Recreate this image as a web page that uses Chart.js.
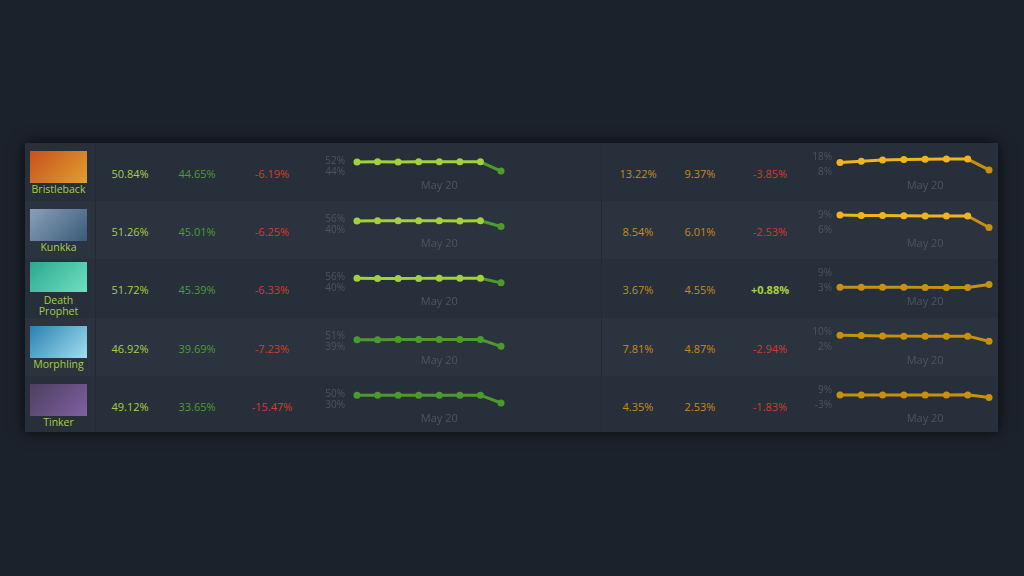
<!DOCTYPE html>
<html><head><meta charset="utf-8">
<script src="https://cdn.jsdelivr.net/npm/chart.js@4"></script>
<style>
body{margin:0;width:1024px;height:576px;background:#1c222c;overflow:hidden;font-family:"Open Sans",sans-serif;}
#tbl{position:absolute;left:25px;top:143px;width:973px;height:289px;background:#29313c;box-shadow:0 0 14px rgba(0,0,0,0.7);}
.row{position:absolute;left:0;width:973px;}
.cell{position:absolute;font-size:11px;transform:translate(-50%,-50%);white-space:nowrap;}
.img{position:absolute;left:5px;width:57px;height:32px;}
.name{position:absolute;font-size:10.5px;color:#a6cf45;text-align:center;width:67px;left:0;line-height:11px;}
canvas{position:absolute;}
.sep{position:absolute;top:0;width:1px;height:289px;background:#232a34;}
</style></head><body>
<div id="tbl"></div>
<script>
const heroes=['Bristleback','Kunkka','Death\nProphet','Morphling','Tinker'];
const winBefore=['50.84%','51.26%','51.72%','46.92%','49.12%'];
const winAfter=['44.65%','45.01%','45.39%','39.69%','33.65%'];
const winDiff=['-6.19%','-6.25%','-6.33%','-7.23%','-15.47%'];
const pickBefore=['13.22%','8.54%','3.67%','7.81%','4.35%'];
const pickAfter=['9.37%','6.01%','4.55%','4.87%','2.53%'];
const pickDiff=['-3.85%','-2.53%','+0.88%','-2.94%','-1.83%'];
const dates=['','','','','May 20','','',''];
const winSeries=[
 [51.2,51.4,51.3,51.4,51.4,51.4,51.4,44.65],
 [53.2,53.5,53.3,53.3,53.3,53.2,53.4,45.01],
 [54.2,53.9,53.9,54.0,54.2,54.1,54.1,47.5],
 [47.0,47.0,47.3,47.2,47.1,47.1,47.1,39.69],
 [47.8,47.8,47.8,47.8,47.8,47.8,47.9,33.65]];
const winTicks=[[44,52],[40,56],[40,56],[39,51],[30,50]];
const pickSeries=[
 [14.3,15.2,16.0,16.4,16.5,16.7,16.6,9.37],
 [9.0,8.9,8.9,8.85,8.8,8.8,8.8,6.5],
 [3.3,3.3,3.3,3.3,3.25,3.25,3.25,4.4],
 [8.3,8.1,7.9,7.8,7.8,7.8,7.8,5.1],
 [5.0,5.0,5.0,5.0,5.0,5.0,5.1,3.0]];
const pickTicks=[[8,18],[6,9],[3,9],[2,10],[-3,9]];
const winColors=[['#a3d03e','#4f9a2c'],['#a3d03e','#4f9a2c'],['#a3d03e','#4f9a2c'],['#4c9a2e','#4c9a2e'],['#4c9a2e','#4c9a2e']];
const pickColors=[['#f2b41e','#c8900f'],['#f2b41e','#c8900f'],['#c8900f','#c8900f'],['#c8900f','#c8900f'],['#c8900f','#c8900f']];
const portraitColors=[['#c8501c','#e0a030'],['#8aa0b8','#3a5a7a'],['#2aa890','#70e0c0'],['#2a80b0','#a0e0f0'],['#4a4060','#8060a0']];

const tbl=document.getElementById('tbl');
const rowTops=[0,58,116,175,233];
const rowH=[58,58,59,58,56];
rowTops.forEach((top,i)=>{
  const r=document.createElement('div');r.className='row';
  r.style.top=top+'px';r.style.height=rowH[i]+'px';
  r.style.background=i%2?'#2b333e':'#27303a';
  tbl.appendChild(r);
});
['70px','576px'].forEach(l=>{const s=document.createElement('div');s.className='sep';s.style.left=l;tbl.appendChild(s);});
rowTops.forEach((top,i)=>{
  const r=document.createElement('div');r.className='row';
  r.style.top=top+'px';r.style.height=rowH[i]+'px';
  tbl.appendChild(r);
  const img=document.createElement('div');img.className='img';
  img.style.top=(i==2?3:8)+'px';img.style.height=(i==2?30:32)+'px';
  img.style.background=`linear-gradient(135deg,${portraitColors[i][0]},${portraitColors[i][1]})`;
  r.appendChild(img);
  const nm=document.createElement('div');nm.className='name';
  nm.innerHTML=heroes[i].replace('\n','<br>');
  nm.style.top=(i==2?36:41)+'px';r.appendChild(nm);
  const cells=[[105,winBefore[i],'#a6cf45'],[172,winAfter[i],'#4e9a38'],[247,winDiff[i],'#d23b2d'],
    [613,pickBefore[i],'#c9891e'],[675,pickAfter[i],'#c9891e'],[745,pickDiff[i],pickDiff[i][0]=='+'?'#a6d040':'#d23b2d']];
  cells.forEach(([x,t,c])=>{
    const d=document.createElement('div');d.className='cell';d.textContent=t;d.style.color=c;
    d.style.left=x+'px';d.style.top='30px';
    if(t[0]=='+')d.style.fontWeight='bold';
    r.appendChild(d);
  });
  mk(r,293,190,39,12,winSeries[i],winTicks[i],winColors[i]);
  mk(r,775,196,40,8,pickSeries[i],pickTicks[i],pickColors[i]);
});
function mk(parent,left,w,yw,tp,data,ticks,cols){
  const c=document.createElement('canvas');
  c.style.left=left+'px';c.style.top='0px';c.width=w;c.height=58;
  c.style.width=w+'px';c.style.height='58px';
  parent.appendChild(c);
  new Chart(c,{type:'line',data:{labels:dates,datasets:[{data:data,clip:false,borderWidth:3,pointRadius:3.5,
    borderColor:cols[0],pointBackgroundColor:ctx=>ctx.dataIndex==7?cols[1]:cols[0],pointBorderWidth:0,
    segment:{borderColor:ctx=>ctx.p1DataIndex==7?cols[1]:cols[0]}}]},
    options:{responsive:false,animation:false,devicePixelRatio:1,
      layout:{padding:{top:12,bottom:0,right:6,left:0}},
      plugins:{legend:{display:false},tooltip:{enabled:false}},
      scales:{
        x:{offset:false,grid:{display:false,drawTicks:false},border:{display:false},
           afterFit:s=>{s.height=29;},
           ticks:{autoSkip:false,maxRotation:0,minRotation:0,padding:7,color:'#4b5561',font:{size:11,family:'Open Sans'}}},
        y:{min:ticks[0],max:ticks[1],grid:{display:false,drawTicks:false},border:{display:false},
           afterBuildTicks:s=>{s.ticks=[{value:ticks[0]},{value:ticks[1]}];},
           afterFit:s=>{s.width=yw;},
           ticks:{autoSkip:false,padding:tp,color:'#4b5561',font:{size:10,family:'Open Sans'},callback:v=>v+'%'}}}}});
}
</script></body></html>
